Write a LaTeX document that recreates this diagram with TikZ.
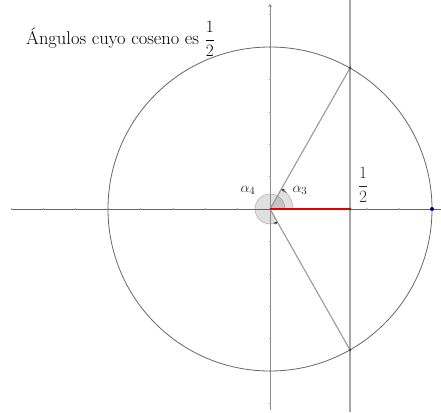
\documentclass[tikz,border=0pt]{standalone}
\usetikzlibrary{arrows.meta}
\begin{document}
\begin{tikzpicture}[x=1pt,y=1pt,
  axis/.style={draw=black!60,line width=0.8pt},
  tickmark/.style={draw=black!35,line width=0.5pt},
  circ/.style={draw=black!60,line width=0.8pt},
  vline/.style={draw=black!35,line width=1.2pt},
  ray/.style={draw=black!40,line width=1.1pt},
  sector/.style={fill=black,fill opacity=0.12,draw=black!50,draw opacity=0.5,line width=0.6pt},
  angarrow/.style={draw=black!80,line width=0.6pt,-{Stealth[length=3pt,width=3pt]}},
  dot/.style={circle,fill=black!75,inner sep=0pt,minimum size=3pt},
  lbl/.style={text=black!85,font=\fontsize{15}{17}\selectfont}]
\useasboundingbox (-270,-203) rectangle (171,209);
\coordinate (O) at (0,0);
\coordinate (xl) at (-259,0);
\coordinate (xr) at (171,0);
\coordinate (yt) at (0,205);
\coordinate (yb) at (0,-201);
\coordinate (vt) at (80,209);
\coordinate (vb) at (80,-203);
\coordinate (H) at (80,0);
\coordinate (P) at (80,140.9);
\coordinate (Q) at (80,-140.9);
\coordinate (R) at (162,0);
% angle sectors
\path[sector] (O) -- (0:15) arc[start angle=0,end angle=300,radius=15] -- cycle;
\path[sector] (O) -- (0:23) arc[start angle=0,end angle=60,radius=23] -- cycle;
% axes
\draw[axis] (xl) -- (xr);
\draw[axis,draw=black!45,line width=1pt,-{Stealth[length=3pt,width=4pt]}] (yb) -- (yt);
\foreach \k in {-8,...,-1,1,2,3,4,5} \draw[tickmark] (\k*32.4,-1.2) -- (\k*32.4,1.2);
\foreach \k in {-6,...,-1,1,2,3,4,5,6} \draw[tickmark] (-1.2,\k*32.4) -- (1.2,\k*32.4);
% circle and line
\draw[circ] (O) circle[radius=162];
\draw[vline] (vt) -- (vb);
\draw[ray] (O) -- (P);
\draw[ray] (O) -- (Q);
\draw[red!90!black,line width=1.2pt] (O) -- (H);
% angle arrows
\draw[angarrow] (45:23) arc[start angle=45,end angle=60,radius=23];
\draw[angarrow] (285:15) arc[start angle=285,end angle=300,radius=15];
% points
\node[dot] (p1) at (P) {};
\node[dot] (p2) at (Q) {};
\node[dot] (p3) at (H) {};
\node[circle,fill=blue!55!black,inner sep=0pt,minimum size=4pt] (p4) at (R) {};
% labels
\node[lbl] (a4) at (-22,19) {$\alpha_4$};
\node[lbl] (a3) at (30,19) {$\alpha_3$};
\node[lbl,font=\fontsize{17}{19}\selectfont] (half) at (93,24) {$\displaystyle\frac{1}{2}$};
\node[anchor=west,inner sep=0pt,font=\fontsize{18.5}{21}\selectfont] (title) at (-244,170) {Ángulos cuyo coseno es $\displaystyle\frac{1}{2}$};
\end{tikzpicture}
\end{document}
